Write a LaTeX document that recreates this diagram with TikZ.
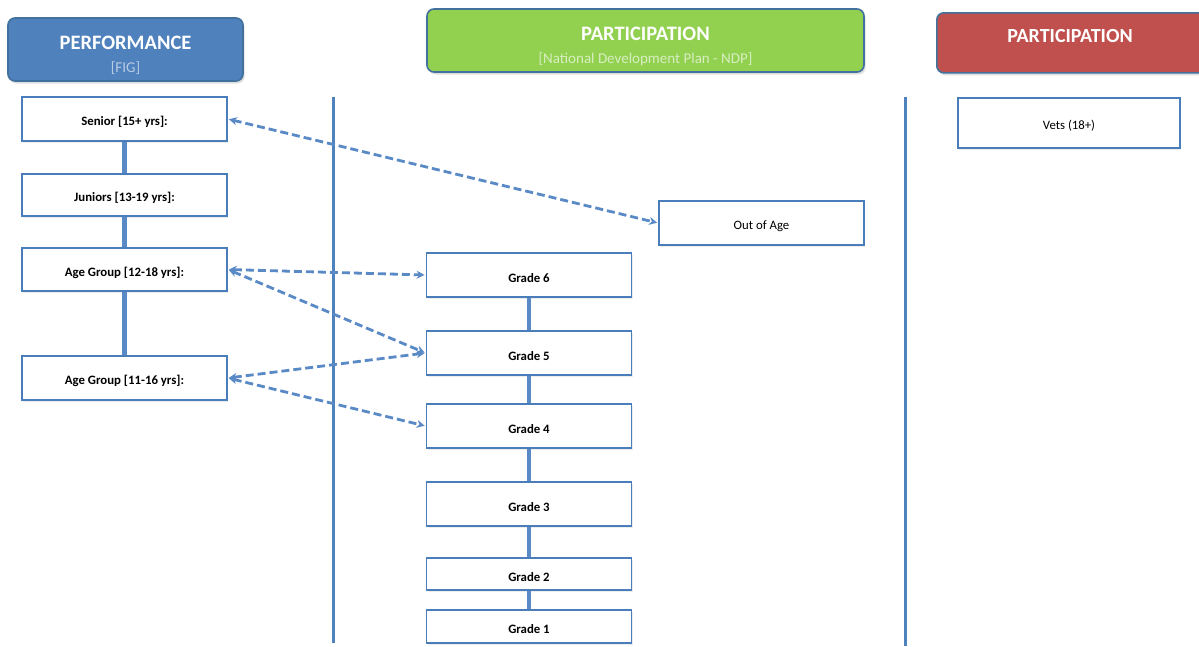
\documentclass[tikz,border=0pt]{standalone}
\usepackage{fontspec}
\setmainfont{Carlito}
\usetikzlibrary{arrows.meta,shadows}
\definecolor{hblue}{HTML}{4F81BD}
\definecolor{hgreen}{HTML}{92D050}
\definecolor{hred}{HTML}{C0504D}
\definecolor{edgeblue}{HTML}{41719C}
\definecolor{boxline}{HTML}{4A7EBB}
\definecolor{linkblue}{HTML}{5A8AC6}
\definecolor{subblue}{HTML}{B8CCE4}
\definecolor{subgreen}{HTML}{D8EEC2}
\newcommand{\lowtxt}[1]{\raisebox{-3pt}[\height][\depth]{#1}}
\newcommand{\headtxt}[3]{\raisebox{-6.5pt}[\height][\depth]{\begin{tabular}{@{}c@{}}%
  \fontsize{20.5}{23}\selectfont\bfseries #1\\[9pt]%
  \fontsize{15}{17}\selectfont\color{#3}#2\end{tabular}}}
\tikzset{
  header/.style={draw=edgeblue, line width=1.6pt, rounded corners=7pt,
     text=white, inner sep=0pt, drop shadow={shadow xshift=1.5pt, shadow yshift=-2.5pt, opacity=0.25}},
  box/.style={draw=boxline, line width=1.8pt, fill=white, inner sep=0pt,
     font=\fontsize{12.8}{15}\selectfont\bfseries,
     drop shadow={shadow xshift=1pt, shadow yshift=-1.5pt, opacity=0.15}},
  plainbox/.style={box, font=\fontsize{12.8}{15}\selectfont},
  solidlink/.style={draw=linkblue, line width=4.5pt},
  dashlink/.style={draw=linkblue, line width=2.8pt, dash pattern=on 8pt off 4pt,
     {Stealth[length=8pt,width=8pt]}-{Stealth[length=8pt,width=8pt]}, shorten <=1pt, shorten >=1pt},
  divider/.style={draw=hblue, line width=3pt}
}
\begin{document}
\begin{tikzpicture}[x=1pt,y=-1pt]
\useasboundingbox (0,0) rectangle (1199,646);
\fill[white] (0,0) rectangle (1199,646);

% headers
\node[header, fill=hblue, minimum width=235, minimum height=63] (perf) at (125.5,49.5)
  {\headtxt{PERFORMANCE}{[FIG]}{subblue}};
\node[header, fill=hgreen, minimum width=437, minimum height=63] (partg) at (645.5,40.5)
  {\headtxt{PARTICIPATION}{[National Development Plan - NDP]}{subgreen}};
\node[header, fill=hred, minimum width=270, minimum height=60, anchor=north west] (partr) at (936,12) {};
\node[text=white, font=\fontsize{20}{23}\selectfont\bfseries] (partrt) at (1070,36) {PARTICIPATION};

% dividers
\draw[divider] (333,97) -- (333,643);
\draw[divider] (905,97) -- (905,646);

% left column
\node[box, minimum width=205, minimum height=44] (senior) at (124.5,119) {\lowtxt{Senior [15+ yrs]:}};
\node[box, minimum width=205, minimum height=42] (juniors) at (124.5,195) {\lowtxt{Juniors [13-19 yrs]:}};
\node[box, minimum width=205, minimum height=43] (ag12) at (124.5,269.5) {\lowtxt{Age Group [12-18 yrs]:}};
\node[box, minimum width=205, minimum height=44] (ag11) at (124.5,378) {\lowtxt{Age Group [11-16 yrs]:}};

% middle column
\node[plainbox, minimum width=205, minimum height=44] (out) at (761.5,223) {\lowtxt{Out of Age}};
\node[box, minimum width=205, minimum height=44] (g6) at (529,275) {\lowtxt{Grade 6}};
\node[box, minimum width=205, minimum height=44] (g5) at (529,353) {\lowtxt{Grade 5}};
\node[box, minimum width=205, minimum height=44] (g4) at (529,426) {\lowtxt{Grade 4}};
\node[box, minimum width=205, minimum height=44] (g3) at (529,504) {\lowtxt{Grade 3}};
\node[box, minimum width=205, minimum height=32] (g2) at (529,574) {\lowtxt{Grade 2}};
\node[box, minimum width=205, minimum height=33] (g1) at (529,626.5) {\lowtxt{Grade 1}};

% right column
\node[plainbox, minimum width=222, minimum height=50] (vets) at (1069,123) {\lowtxt{Vets (18+)}};

% solid links
\draw[solidlink] (senior.south) -- (juniors.north);
\draw[solidlink] (juniors.south) -- (ag12.north);
\draw[solidlink] (ag12.south) -- (ag11.north);
\draw[solidlink] (g6.south) -- (g5.north);
\draw[solidlink] (g5.south) -- (g4.north);
\draw[solidlink] (g4.south) -- (g3.north);
\draw[solidlink] (g3.south) -- (g2.north);
\draw[solidlink] (g2.south) -- (g1.north);

% dashed links
\draw[dashlink] (senior.east) -- (out.west);
\draw[dashlink] (ag12.east) -- (g6.west);
\draw[dashlink] (ag12.east) -- (g5.west);
\draw[dashlink] (ag11.east) -- (g5.west);
\draw[dashlink] (ag11.east) -- (g4.west);
\end{tikzpicture}
\end{document}
